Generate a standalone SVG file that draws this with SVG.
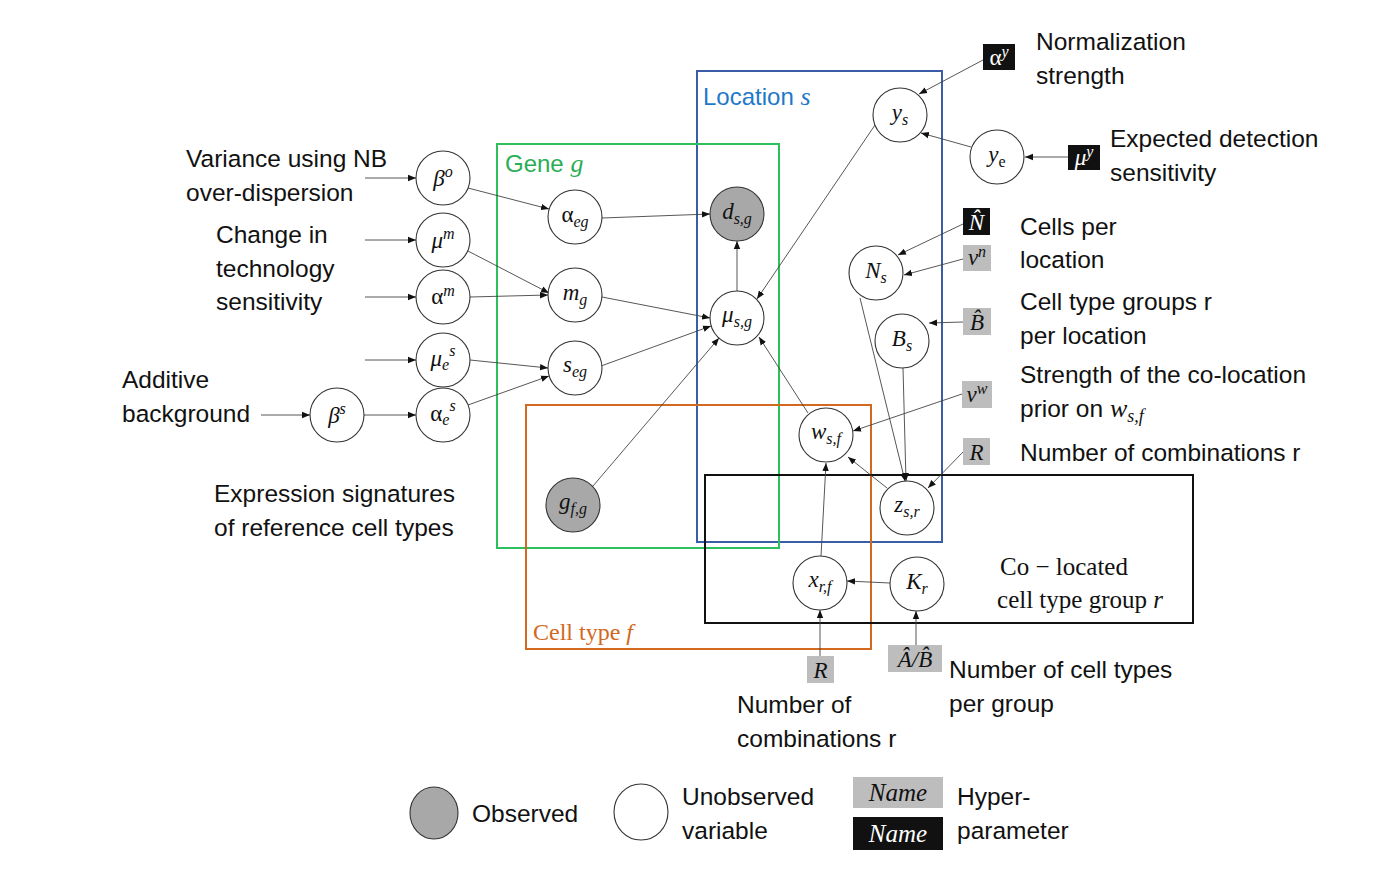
<svg xmlns="http://www.w3.org/2000/svg" width="1397" height="880" viewBox="0 0 1397 880">
<style>
.lbl{font-family:"Liberation Sans",Arial,sans-serif;font-size:24.5px;fill:#111}
.m{font-family:"Liberation Serif","Times New Roman",serif;font-style:italic;font-size:23px;fill:#111;text-anchor:middle}
.up{font-style:normal}
.it{font-style:italic}
.s{font-size:16px}
.nd{fill:#fff;stroke:#333;stroke-width:1.1}
.obs{fill:#a8a8a8;stroke:#333;stroke-width:1.1}
.hg{fill:#bdbdbd}
.hb{fill:#111}
.w{fill:#fff}
.e{stroke:#444;stroke-width:0.9;fill:none;marker-end:url(#ah)}
.plate{fill:none;stroke-width:2}
</style>
<defs>
<marker id="ah" viewBox="0 0 10 10" refX="10" refY="5" markerWidth="8" markerHeight="8" markerUnits="userSpaceOnUse" orient="auto">
<path d="M0,1 L10,5 L0,9 z" fill="#111"/>
</marker>
</defs>
<rect width="1397" height="880" fill="#fff"/>

<g id="plates">
<rect class="plate" x="697" y="71" width="245" height="471" stroke="#3a5da8"/>
<rect class="plate" x="497" y="144" width="282" height="404" stroke="#2dbf5c"/>
<rect class="plate" x="526" y="405" width="345" height="244" stroke="#d2691e"/>
<rect class="plate" x="705" y="475" width="488" height="148" stroke="#111"/>
<text x="703" y="105" font-family="Liberation Sans,Arial,sans-serif" font-size="24" fill="#1f78c8">Location <tspan font-family="Liberation Serif,serif" font-style="italic" font-size="26">s</tspan></text>
<text x="505" y="172" font-family="Liberation Sans,Arial,sans-serif" font-size="24" fill="#2aae55">Gene <tspan font-family="Liberation Serif,serif" font-style="italic" font-size="26">g</tspan></text>
<text x="533" y="640" font-family="Liberation Serif,serif" font-size="24" fill="#d2691e">Cell type <tspan font-style="italic">f</tspan></text>
<text x="1064" y="575" font-family="Liberation Serif,serif" font-size="25" fill="#111" text-anchor="middle">Co − located</text>
<text x="1080" y="608" font-family="Liberation Serif,serif" font-size="25" fill="#111" text-anchor="middle">cell type group <tspan font-style="italic">r</tspan></text>
</g>

<g id="connectors">
<line class="e" x1="365" y1="178" x2="416" y2="178"/>
<line class="e" x1="365" y1="240" x2="416" y2="240"/>
<line class="e" x1="365" y1="297" x2="416" y2="297"/>
<line class="e" x1="365" y1="360" x2="416" y2="360"/>
<line class="e" x1="261" y1="415" x2="310" y2="415"/>
<line class="e" x1="364" y1="415" x2="416" y2="415"/>
<line class="e" x1="468" y1="188" x2="549" y2="209"/>
<line class="e" x1="468" y1="251" x2="549" y2="293"/>
<line class="e" x1="470" y1="297" x2="548" y2="295"/>
<line class="e" x1="470" y1="360" x2="548" y2="368"/>
<line class="e" x1="468" y1="405" x2="549" y2="376"/>
<line class="e" x1="602" y1="218" x2="710" y2="214"/>
<line class="e" x1="602" y1="297" x2="710" y2="318"/>
<line class="e" x1="601" y1="366" x2="711" y2="326"/>
<line class="e" x1="737" y1="291" x2="737" y2="241"/>
<line class="e" x1="593" y1="486" x2="719" y2="338"/>
<line class="e" x1="875" y1="125" x2="757" y2="299"/>
<line class="e" x1="808" y1="413" x2="759" y2="337"/>
<line class="e" x1="983" y1="60" x2="919" y2="94"/>
<line class="e" x1="971" y1="147" x2="921" y2="133"/>
<line class="e" x1="1068" y1="157" x2="1025" y2="157"/>
<line class="e" x1="963" y1="224" x2="898" y2="255"/>
<line class="e" x1="963" y1="259" x2="904" y2="275"/>
<line class="e" x1="963" y1="322" x2="929" y2="323"/>
<line class="e" x1="962" y1="394" x2="853" y2="431"/>
<line class="e" x1="963" y1="452" x2="928" y2="488"/>
<line class="e" x1="860" y1="298" x2="905" y2="481"/>
<line class="e" x1="903" y1="368" x2="906" y2="481"/>
<line class="e" x1="887" y1="488" x2="848" y2="457"/>
<line class="e" x1="821" y1="556" x2="826" y2="463"/>
<line class="e" x1="890" y1="583" x2="847" y2="581"/>
<line class="e" x1="820" y1="656" x2="820" y2="610"/>
<line class="e" x1="916" y1="645" x2="916" y2="611"/>
</g>

<g id="n-beta-o"><circle class="nd" cx="443" cy="178" r="27"/><text class="m" x="443" y="186">β<tspan class="s" dy="-9">o</tspan></text></g>
<g id="n-mu-m"><circle class="nd" cx="443" cy="240" r="27"/><text class="m" x="443" y="248">μ<tspan class="s" dy="-9">m</tspan></text></g>
<g id="n-alpha-m"><circle class="nd" cx="443" cy="297" r="27"/><text class="m up" x="443" y="304">α<tspan class="s it" dy="-8">m</tspan></text></g>
<g id="n-mu-es"><circle class="nd" cx="443" cy="360" r="27"/><text class="m" x="443" y="366">μ<tspan class="s" dy="4">e</tspan><tspan class="s" dy="-14">s</tspan></text></g>
<g id="n-alpha-es"><circle class="nd" cx="443" cy="415" r="27"/><text class="m up" x="443" y="421">α<tspan class="s it" dy="4">e</tspan><tspan class="s it" dy="-14">s</tspan></text></g>
<g id="n-beta-s"><circle class="nd" cx="337" cy="415" r="27"/><text class="m" x="337" y="423">β<tspan class="s" dy="-9">s</tspan></text></g>
<g id="n-alpha-eg"><circle class="nd" cx="575" cy="217" r="27"/><text class="m up" x="575" y="222">α<tspan class="s it" dy="5">eg</tspan></text></g>
<g id="n-m-g"><circle class="nd" cx="575" cy="295" r="27"/><text class="m" x="575" y="300">m<tspan class="s" dy="5">g</tspan></text></g>
<g id="n-s-eg"><circle class="nd" cx="575" cy="368" r="27"/><text class="m" x="575" y="372">s<tspan class="s" dy="5">eg</tspan></text></g>
<g id="n-d-sg"><circle class="obs" cx="737" cy="214" r="27"/><text class="m" x="737" y="219">d<tspan class="s" dy="5">s,g</tspan></text></g>
<g id="n-mu-sg"><circle class="nd" cx="737" cy="318" r="27"/><text class="m" x="737" y="322">μ<tspan class="s" dy="5">s,g</tspan></text></g>
<g id="n-g-fg"><circle class="obs" cx="573" cy="505" r="27"/><text class="m" x="573" y="509">g<tspan class="s" dy="5">f,g</tspan></text></g>
<g id="n-y-s"><circle class="nd" cx="900" cy="115" r="27"/><text class="m" x="900" y="120">y<tspan class="s" dy="5">s</tspan></text></g>
<g id="n-y-e"><circle class="nd" cx="997" cy="157" r="27"/><text class="m" x="997" y="162">y<tspan class="s up" dy="5">e</tspan></text></g>
<g id="n-N-s"><circle class="nd" cx="876" cy="273" r="27"/><text class="m" x="876" y="278">N<tspan class="s" dy="5">s</tspan></text></g>
<g id="n-B-s"><circle class="nd" cx="902" cy="341" r="27"/><text class="m" x="902" y="346">B<tspan class="s" dy="5">s</tspan></text></g>
<g id="n-w-sf"><circle class="nd" cx="826" cy="435" r="27"/><text class="m" x="826" y="439">w<tspan class="s" dy="5">s,f</tspan></text></g>
<g id="n-z-sr"><circle class="nd" cx="907" cy="508" r="27"/><text class="m" x="907" y="512">z<tspan class="s" dy="5">s,r</tspan></text></g>
<g id="n-x-rf"><circle class="nd" cx="820" cy="583" r="27"/><text class="m" x="820" y="587">x<tspan class="s" dy="5">r,f</tspan></text></g>
<g id="n-K-r"><circle class="nd" cx="917" cy="584" r="27"/><text class="m" x="917" y="589">K<tspan class="s" dy="5">r</tspan></text></g>

<g id="h-alpha-y"><rect class="hb" x="983" y="44" width="32" height="26"/><text class="m up w" x="999" y="65">α<tspan class="s it" dy="-8">y</tspan></text></g>
<g id="h-mu-y"><rect class="hb" x="1068" y="145" width="32" height="25"/><text class="m w" x="1084" y="165">μ<tspan class="s" dy="-8">y</tspan></text></g>
<g id="h-N-hat"><rect class="hb" x="963" y="208" width="27" height="27"/><text class="m w" x="976.5" y="230">N̂</text></g>
<g id="h-v-n"><rect class="hg" x="963" y="245" width="28" height="26"/><text class="m" x="977" y="265">v<tspan class="s" dy="-8">n</tspan></text></g>
<g id="h-B-hat"><rect class="hg" x="963" y="308" width="28" height="27"/><text class="m" x="977" y="330">B̂</text></g>
<g id="h-v-w"><rect class="hg" x="962" y="381" width="30" height="27"/><text class="m" x="977" y="402">v<tspan class="s" dy="-8">w</tspan></text></g>
<g id="h-R-top"><rect class="hg" x="963" y="438" width="27" height="27"/><text class="m" x="976.5" y="460">R</text></g>
<g id="h-R-bottom"><rect class="hg" x="807" y="656" width="27" height="27"/><text class="m" x="820.5" y="678">R</text></g>
<g id="h-AB-hat"><rect class="hg" x="888" y="645" width="54" height="27"/><text class="m" x="915" y="667">Â/B̂</text></g>

<g id="labels">
<text class="lbl" x="186" y="167">Variance using NB</text>
<text class="lbl" x="186" y="201">over-dispersion</text>
<text class="lbl" x="216" y="243">Change in</text>
<text class="lbl" x="216" y="277">technology</text>
<text class="lbl" x="216" y="310">sensitivity</text>
<text class="lbl" x="122" y="388">Additive</text>
<text class="lbl" x="122" y="422">background</text>
<text class="lbl" x="214" y="502">Expression signatures</text>
<text class="lbl" x="214" y="536">of reference cell types</text>
<text class="lbl" x="1036" y="50">Normalization</text>
<text class="lbl" x="1036" y="84">strength</text>
<text class="lbl" x="1110" y="147">Expected detection</text>
<text class="lbl" x="1110" y="181">sensitivity</text>
<text class="lbl" x="1020" y="235">Cells per</text>
<text class="lbl" x="1020" y="268">location</text>
<text class="lbl" x="1020" y="310">Cell type groups r</text>
<text class="lbl" x="1020" y="344">per location</text>
<text class="lbl" x="1020" y="383">Strength of the co-location</text>
<text class="lbl" x="1020" y="417">prior on <tspan font-family="Liberation Serif,serif" font-style="italic" font-size="26">w</tspan><tspan font-family="Liberation Serif,serif" font-style="italic" font-size="18" dy="5">s,f</tspan></text>
<text class="lbl" x="1020" y="461">Number of combinations r</text>
<text class="lbl" x="949" y="678">Number of cell types</text>
<text class="lbl" x="949" y="712">per group</text>
<text class="lbl" x="737" y="713">Number of</text>
<text class="lbl" x="737" y="747">combinations r</text>
</g>

<g id="legend">
<ellipse class="obs" cx="434" cy="813" rx="24" ry="26"/>
<text class="lbl" x="472" y="822">Observed</text>
<ellipse class="nd" cx="641" cy="812" rx="27" ry="28"/>
<text class="lbl" x="682" y="805">Unobserved</text>
<text class="lbl" x="682" y="839">variable</text>
<rect class="hg" x="853" y="777" width="90" height="31"/>
<text class="m" x="898" y="801" style="font-size:25px">Name</text>
<rect class="hb" x="853" y="817" width="90" height="33"/>
<text class="m w" x="898" y="842" style="font-size:25px">Name</text>
<text class="lbl" x="957" y="805">Hyper-</text>
<text class="lbl" x="957" y="839">parameter</text>
</g>
</svg>
